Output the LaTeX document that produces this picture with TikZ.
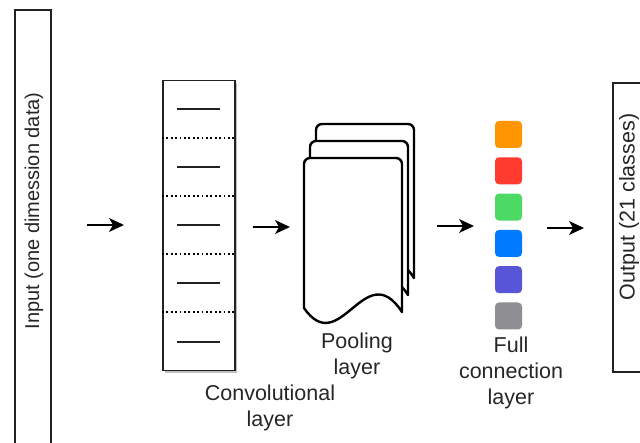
\documentclass[tikz,border=0pt]{standalone}
\usepackage{fontspec}
\setmainfont{Liberation Sans}
\usetikzlibrary{calc}

\definecolor{cOrange}{HTML}{FF9500}
\definecolor{cRed}{HTML}{FF3B30}
\definecolor{cGreen}{HTML}{4CD964}
\definecolor{cBlue}{HTML}{007AFF}
\definecolor{cPurple}{HTML}{5856D6}
\definecolor{cGray}{HTML}{8E8E93}
\definecolor{edge}{HTML}{222222}

\tikzset{
  x=1pt, y=-1pt,
  lbl/.style={font=\fontsize{21.5}{26}\selectfont, align=center, text=black!85, inner sep=0pt},
  flowline/.style={line width=1.5pt},
  frame/.style={draw=edge, line width=1.5pt},
  cell/.style={rounded corners=4pt, minimum size=27pt, inner sep=0pt},
  pooldoc/.pic={
    \draw[line width=2.4pt, fill=white, line join=round]
      (0,150) -- (0,6) arc[start angle=180, end angle=270, radius=6]
      -- (92,0) arc[start angle=270, end angle=360, radius=6]
      -- (98,154) .. controls (61,97) and (36,202) .. (0,150) -- cycle;
  }
}
% a right-pointing arrow between two named coordinates, with a classic block head
\newcommand\flowarrow[2]{%
  \draw[flowline] (#1) -- ($(#2)+(-9,0)$);
  \fill[line join=miter] (#2) -- ($(#2)+(-15,-7)$) -- ($(#2)+(-11,0)$) -- ($(#2)+(-15,7)$) -- cycle;
}

\begin{document}
\begin{tikzpicture}
\useasboundingbox (0,0) rectangle (640,443);
\clip (0,0) rectangle (640,443);

% input frame, open at the bottom
\draw[frame] (15,450) -- (15,10) -- (51,10) -- (51,450);
\node[lbl, font=\fontsize{20}{24}\selectfont, rotate=90] (input) at (34,211) {Input (one dimession data)};

% output frame, open on the right
\draw[frame] (650,83) -- (613,83) -- (613,372) -- (650,372);
\node[lbl, rotate=90] (output) at (629,207) {Output (21 classes)};

% convolutional layer
\fill[black!25] (165,83) rectangle (237,373);
\node[frame, fill=white, minimum width=72pt, minimum height=290pt, inner sep=0pt, anchor=north west] (conv) at (162,80) {};
\foreach \y in {138,196,254,312}
  \draw[line width=1.5pt, dash pattern=on 1.8pt off 2.6pt] (162,\y) -- (234,\y);
\foreach \y in {109,167,225,283,342}
  \draw[line width=1.6pt, edge] (177,\y) -- (220,\y);
\node[lbl] (convlbl) at (270,408) {Convolutional\\layer};

% pooling layer: stacked documents
\pic at (316,124) {pooldoc};
\pic at (310,141) {pooldoc};
\pic at (304,158) {pooldoc};
\node[lbl] (poollbl) at (357,356) {Pooling\\layer};

% fully connected layer
\node[cell, fill=cOrange] (f1) at (508.5,134.5) {};
\node[cell, fill=cRed]    (f2) at (508.5,170.8) {};
\node[cell, fill=cGreen]  (f3) at (508.5,207.1) {};
\node[cell, fill=cBlue]   (f4) at (508.5,243.4) {};
\node[cell, fill=cPurple] (f5) at (508.5,279.7) {};
\node[cell, fill=cGray]   (f6) at (508.5,316) {};
\node[lbl] (fclbl) at (511,373) {Full\\connection\\layer};

% flow arrows
\coordinate (a1s) at (87,225);  \coordinate (a1e) at (124,225);
\coordinate (a2s) at (253,227); \coordinate (a2e) at (290,227);
\coordinate (a3s) at (437,226); \coordinate (a3e) at (474,226);
\coordinate (a4s) at (547,228); \coordinate (a4e) at (584,228);
\flowarrow{a1s}{a1e}
\flowarrow{a2s}{a2e}
\flowarrow{a3s}{a3e}
\flowarrow{a4s}{a4e}
\end{tikzpicture}
\end{document}
